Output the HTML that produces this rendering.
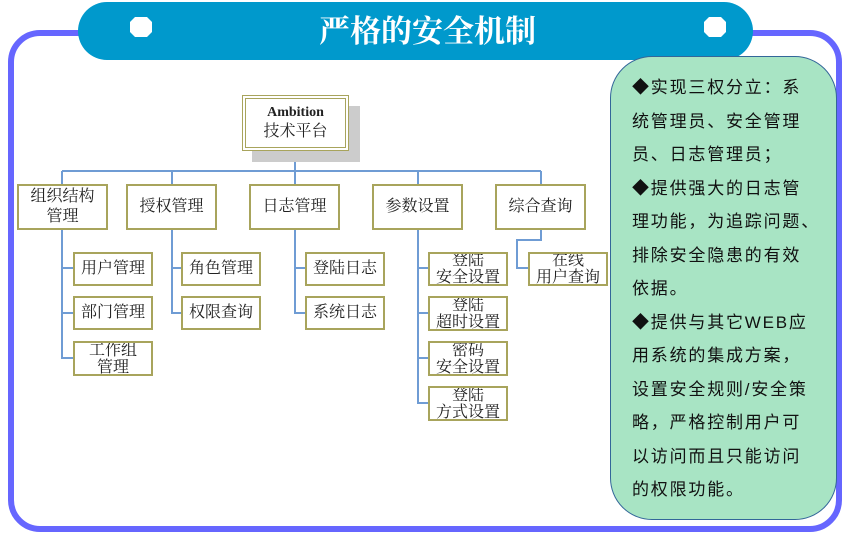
<!DOCTYPE html>
<html><head><meta charset="utf-8"><style>
body{margin:0;width:845px;height:535px;position:relative;background:#fff;overflow:hidden;font-family:"Liberation Serif","Noto Serif CJK SC",serif}
.a{position:absolute;box-sizing:border-box}
.b{position:absolute;box-sizing:border-box;border:2px solid #a8a45c;background:#fff;display:flex;align-items:center;justify-content:center;text-align:center;font-size:16px;color:#222;line-height:20px}
.c{line-height:17px;overflow:hidden}
.t{position:absolute;left:632px;top:71px;width:210px;font-family:"Liberation Sans","Noto Sans CJK SC",sans-serif;font-size:17px;line-height:33.5px;color:#111;letter-spacing:1.8px;white-space:nowrap}
</style></head><body>
<div class="a" style="left:8px;top:30px;width:834px;height:502px;border:6px solid #6666ff;border-radius:32px"></div>
<div class="a" style="left:78px;top:2px;width:675px;height:58px;background:#0099cc;border-radius:29px"></div>
<svg class="a" style="left:0;top:0" width="845" height="535">
<polygon points="135,17 147,17 152,22 152,32 147,37 135,37 130,32 130,22" fill="#fff"/>
<polygon points="709,17 721,17 726,22 726,32 721,37 709,37 704,32 704,22" fill="#fff"/>
<g stroke="#6f9cd4" stroke-width="2" fill="none">
<path d="M295,150V185M62,171H541M62,171V185M172,171V185M418,171V185M541,171V185"/>
<path d="M62,229V358H73M62,268H73M62,313H73"/>
<path d="M172,229V313H181M172,268H181"/>
<path d="M295,229V313H305M295,268H305"/>
<path d="M418,229V403H428M418,268H428M418,313H428M418,358H428"/>
<path d="M541,229V240H517V268H528"/>
</g></svg>
<div class="a" style="left:0;width:845px;top:12px;text-align:center;color:#fff;font-size:31px;font-weight:bold;line-height:40px;padding-left:10px;font-family:'Liberation Serif','Noto Serif CJK SC',serif">严格的安全机制</div>
<div class="a" style="left:252px;top:106px;width:108px;height:56px;background:#cccccc"></div>
<div class="b" style="left:242px;top:95px;width:107px;height:56px;border:4px double #a8a45c;flex-direction:column;font-size:16px"><b style="font-size:14px;line-height:18px">Ambition</b><span>技术平台</span></div>
<div class="b" style="left:17px;top:184px;width:91px;height:46px">组织结构<br>管理</div>
<div class="b" style="left:126px;top:184px;width:91px;height:46px">授权管理</div>
<div class="b" style="left:249px;top:184px;width:91px;height:46px">日志管理</div>
<div class="b" style="left:372px;top:184px;width:91px;height:46px">参数设置</div>
<div class="b" style="left:495px;top:184px;width:91px;height:46px">综合查询</div>
<div class="b" style="left:73px;top:252px;width:80px;height:34px">用户管理</div>
<div class="b" style="left:73px;top:296px;width:80px;height:34px">部门管理</div>
<div class="b c" style="left:73px;top:341px;width:80px;height:35px">工作组<br>管理</div>
<div class="b" style="left:181px;top:252px;width:80px;height:34px">角色管理</div>
<div class="b" style="left:181px;top:296px;width:80px;height:34px">权限查询</div>
<div class="b" style="left:305px;top:252px;width:80px;height:34px">登陆日志</div>
<div class="b" style="left:305px;top:296px;width:80px;height:34px">系统日志</div>
<div class="b c" style="left:428px;top:252px;width:80px;height:34px">登陆<br>安全设置</div>
<div class="b c" style="left:428px;top:296px;width:80px;height:35px">登陆<br>超时设置</div>
<div class="b c" style="left:428px;top:341px;width:80px;height:35px">密码<br>安全设置</div>
<div class="b c" style="left:428px;top:386px;width:80px;height:35px">登陆<br>方式设置</div>
<div class="b c" style="left:528px;top:252px;width:80px;height:34px">在线<br>用户查询</div>
<div class="a" style="left:610px;top:56px;width:227px;height:464px;background:#a8e4c4;border:1px solid #336699;border-radius:42px"></div>
<div class="t">◆实现三权分立：系<br>统管理员、安全管理<br>员、日志管理员；<br>◆提供强大的日志管<br>理功能，为追踪问题、<br>排除安全隐患的有效<br>依据。<br>◆提供与其它WEB应<br>用系统的集成方案，<br>设置安全规则/安全策<br>略，严格控制用户可<br>以访问而且只能访问<br>的权限功能。</div>
</body></html>
